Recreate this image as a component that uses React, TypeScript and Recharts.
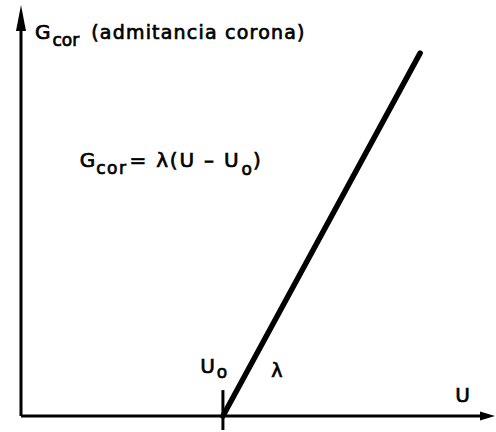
import React from 'react';
import { LineChart, Line, XAxis, YAxis, ReferenceLine, ReferenceDot } from 'recharts';

// characteristic: corona admittance rises linearly above the onset voltage U0
const voltage = [42.6, 84.2];
const admittance = [0, 88.3];
const onsetVoltage = 42.6;

const data = voltage.map((u, i) => ({ u, g: admittance[i] }));

const FONT = '"DejaVu Sans", Verdana, sans-serif';
// the scanned lettering is heavier than a regular face
const ink = { fill: '#000', stroke: '#000', strokeWidth: 0.7 };

// axis line with a filled arrow head at the far end
const arrowShape = (len: number, half: number) => (props: any) => {
  const { x1, y1, x2, y2 } = props;
  const dx = x2 - x1;
  const dy = y2 - y1;
  const d = Math.sqrt(dx * dx + dy * dy) || 1;
  const ux = dx / d;
  const uy = dy / d;
  const bx = x2 - ux * len;
  const by = y2 - uy * len;
  const pts = `${x2},${y2} ${bx - uy * half},${by + ux * half} ${bx + uy * half},${by - ux * half}`;
  return (
    <g>
      <line x1={x1} y1={y1} x2={bx} y2={by} stroke="#000" strokeWidth={3} />
      <polygon points={pts} fill="#000" />
    </g>
  );
};

const titleShape = (p: any) => (
  <text x={p.cx} y={p.cy} fontFamily={FONT} {...ink}>
    <tspan fontSize={20}>G</tspan>
    <tspan fontSize={17} dy={7} dx={2}>cor</tspan>
    <tspan fontSize={19} dy={-7} dx={12} letterSpacing={1.2}>(admitancia corona)</tspan>
  </text>
);

const formulaShape = (p: any) => (
  <text x={p.cx} y={p.cy} fontFamily={FONT} {...ink} fontSize={20}>
    <tspan>G</tspan>
    <tspan fontSize={17} dy={7} dx={1} letterSpacing={1.5}>cor</tspan>
    <tspan dy={-7} dx={2} letterSpacing={1.8}>= λ(U – U</tspan>
    <tspan fontSize={17} dy={8} dx={1}>o</tspan>
    <tspan dy={-8} dx={1}>)</tspan>
  </text>
);

const onsetShape = (p: any) => (
  <text x={p.cx} y={p.cy} fontFamily={FONT} {...ink} fontSize={20}>
    <tspan>U</tspan>
    <tspan fontSize={17} dy={5} dx={2}>o</tspan>
  </text>
);

const lambdaShape = (p: any) => (
  <text x={p.cx} y={p.cy} fontFamily={FONT} {...ink} fontSize={19}>λ</text>
);

const uShape = (p: any) => (
  <text x={p.cx} y={p.cy} fontFamily={FONT} {...ink} fontSize={20}>U</text>
);

export default function App() {
  return (
    <div style={{ position: 'absolute', left: 0, top: 0, background: '#fff' }}>
      <LineChart width={496} height={432} data={data} margin={{ top: 5, right: 1, bottom: 16, left: 21 }}>
        <XAxis type="number" dataKey="u" domain={[0, 100]} hide height={0} />
        <YAxis type="number" domain={[0, 100]} hide width={0} />
        <ReferenceLine
          segment={[{ x: 0, y: 0 }, { x: 100, y: 0 }]}
          ifOverflow="visible"
          shape={arrowShape(15, 4.5)}
        />
        <ReferenceLine
          segment={[{ x: 0, y: 0 }, { x: 0, y: 100 }]}
          ifOverflow="visible"
          shape={arrowShape(26, 5)}
        />
        <ReferenceLine
          segment={[{ x: onsetVoltage, y: -3.4 }, { x: onsetVoltage, y: 6.3 }]}
          ifOverflow="visible"
          stroke="#000"
          strokeWidth={3}
        />
        <Line
          type="linear"
          dataKey="g"
          stroke="#000"
          strokeWidth={5.5}
          strokeLinecap="round"
          dot={false}
          isAnimationActive={false}
        />
        <ReferenceDot x={2.95} y={91.7} r={0} ifOverflow="visible" shape={titleShape} />
        <ReferenceDot x={12.4} y={60.6} r={0} ifOverflow="visible" shape={formulaShape} />
        <ReferenceDot x={37.8} y={10.5} r={0} ifOverflow="visible" shape={onsetShape} />
        <ReferenceDot x={52.8} y={9.5} r={0} ifOverflow="visible" shape={lambdaShape} />
        <ReferenceDot x={91.6} y={3.4} r={0} ifOverflow="visible" shape={uShape} />
      </LineChart>
    </div>
  );
}
